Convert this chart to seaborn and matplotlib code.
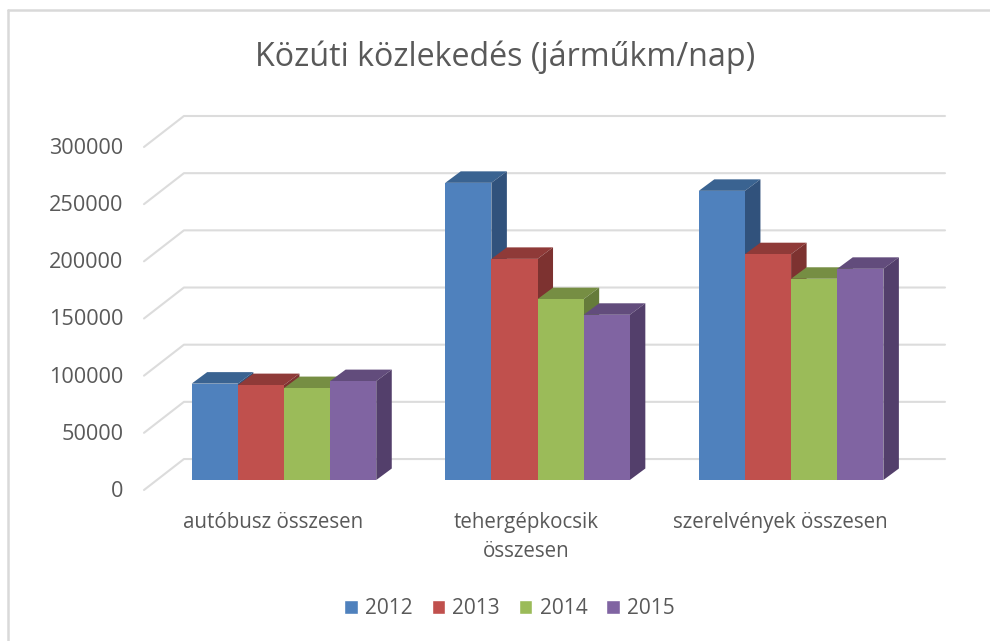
import pandas as pd
import seaborn as sns
import matplotlib.pyplot as plt
from matplotlib.lines import Line2D
from matplotlib.patches import Polygon
from matplotlib.transforms import ScaledTranslation

# ---- data ----
categories = ["autóbusz összesen", "tehergépkocsik\nösszesen", "szerelvények összesen"]
years = ["2012", "2013", "2014", "2015"]
values_2012 = [84300, 259900, 252900]
values_2013 = [83000, 193400, 197500]
values_2014 = [80400, 158200, 176000]
values_2015 = [86500, 144500, 184700]
y_ticks = [0, 50000, 100000, 150000, 200000, 250000, 300000]

front_colors = ["#4f81bd", "#c0504d", "#9bbb59", "#8064a2"]
top_colors = ["#3a6391", "#8f3a38", "#768e43", "#624c7c"]
side_colors = ["#31527c", "#7d3230", "#657b3a", "#533f6b"]

text_color = "#595959"
grid_color = "#dcdcdc"

df = pd.DataFrame({
    "category": categories * 4,
    "year": [y for y in years for _ in categories],
    "value": values_2012 + values_2013 + values_2014 + values_2015,
})

# ---- figure ----
W, H = 990, 641
sns.set_theme(style="white")
plt.rcParams["font.family"] = ["Open Sans", "DejaVu Sans"]

fig = plt.figure(figsize=(W / 100, H / 100), dpi=100, facecolor="white")
ax = fig.add_axes([144 / W, 1 - 490 / H, (945 - 144) / W, (490 - 116) / H])

sns.barplot(
    data=df, x="category", y="value", hue="year",
    palette=front_colors, saturation=1, width=0.728, gap=0,
    errorbar=None, ax=ax,
)

# pseudo 3D depth, in data units
depth_x = 15.5 / 253.5
depth_y = 11.5 * 50000 / 57.2
wall_x = -0.3945
wall_lift = 21 * 50000 / 57.2
front_drop = 10 * 50000 / 57.2

x_left, x_right = -0.552, 2.607
ax.set_xlim(x_left, x_right)
ax.set_ylim(-front_drop, 300000 + wall_lift)

# gridlines on floor edge and back wall
for v in y_ticks:
    ax.plot(
        [x_left, wall_x, x_right],
        [v - front_drop, v + wall_lift, v + wall_lift],
        color=grid_color, lw=1.5, clip_on=False, zorder=1,
    )

# top and side faces of each bar
for j, container in enumerate(ax.containers):
    for bar in container:
        x0 = bar.get_x()
        x1 = x0 + bar.get_width()
        h = bar.get_height()
        bar.set_zorder(3 + 2 * j)
        bar.set_edgecolor("none")
        ax.add_patch(Polygon(
            [(x0, h), (x1, h), (x1 + depth_x, h + depth_y), (x0 + depth_x, h + depth_y)],
            closed=True, facecolor=top_colors[j], edgecolor="none", zorder=2 + 2 * j,
        ))
        ax.add_patch(Polygon(
            [(x1, 0), (x1, h), (x1 + depth_x, h + depth_y), (x1 + depth_x, depth_y)],
            closed=True, facecolor=side_colors[j], edgecolor="none", zorder=2 + 2 * j,
        ))

# ---- axes text ----
ax.set_xlabel("")
ax.set_ylabel("")
ax.set_yticks(y_ticks)
ax.set_yticklabels([str(v) for v in y_ticks])
ax.tick_params(axis="y", length=0, pad=15, labelsize=15.6, labelcolor=text_color)
ax.tick_params(axis="x", length=0, pad=16, labelsize=14.8, labelcolor=text_color)
sns.despine(ax=ax, left=True, bottom=True)

y_shift = ScaledTranslation(0, -9 / 100, fig.dpi_scale_trans)
for label in ax.get_yticklabels():
    label.set_transform(label.get_transform() + y_shift)
x_shift = ScaledTranslation(-11 / 100, 0, fig.dpi_scale_trans)
for label in ax.get_xticklabels():
    label.set_transform(label.get_transform() + x_shift)
    label.set_linespacing(1.49)

fig.suptitle(
    "Közúti közlekedés (járműkm/nap)",
    x=505 / W, y=1 - 57 / H, va="center", fontsize=23.2, color=text_color,
)

# ---- legend ----
leg = ax.legend(
    loc="center", bbox_to_anchor=(509.5 / W, 1 - 609 / H), bbox_transform=fig.transFigure,
    ncol=4, frameon=False, fontsize=15, handlelength=0.65, handleheight=0.65,
    handletextpad=0.35, columnspacing=0.9, labelcolor=text_color,
)

# chart frame, only left and top edges are visible
fig.add_artist(Line2D([8 / W, 8 / W], [0, 1 - 10 / H], color="#d9d9d9", lw=1.8))
fig.add_artist(Line2D([8 / W, 1], [1 - 10 / H, 1 - 10 / H], color="#d9d9d9", lw=1.8))

fig.savefig("out.png", dpi=100)
